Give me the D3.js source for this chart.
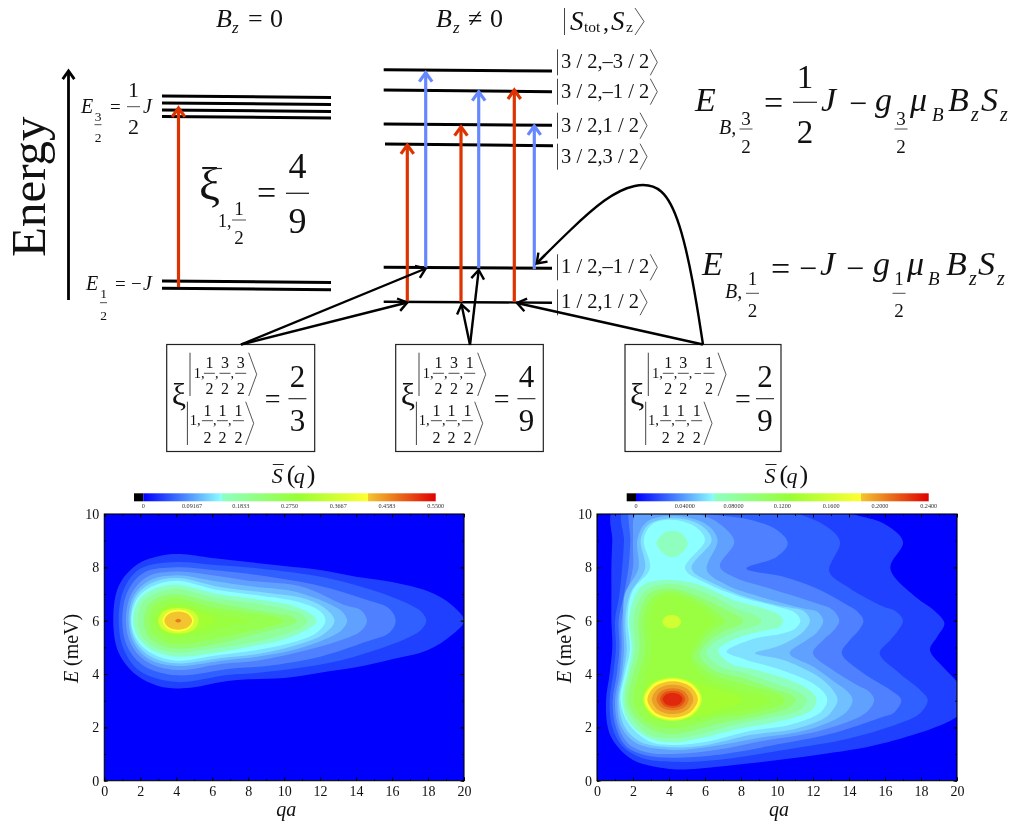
<!DOCTYPE html>
<html>
<head>
<meta charset="utf-8">
<script src="https://cdnjs.cloudflare.com/ajax/libs/d3/7.8.5/d3.min.js"></script>
<style>
  html, body { margin: 0; padding: 0; background: #fff; }
  svg { display: block; filter: blur(0.4px); }
  text { font-family: "Liberation Serif", serif; fill: #111; }
</style>
</head>
<body>
<div id="chart"></div>
<script>
// Energy levels, in units of J: [left end, right end] of each line
const zeroFieldLevels = [[0.593, 0.58], [0.534, 0.521], [0.475, 0.462], [0.42, 0.407], [-0.966, -0.979], [-1.027, -1.04]];
const fieldLevels = [[0.814, 0.803], [0.643, 0.629], [0.357, 0.346], [0.188, 0.174], [-0.851, -0.859], [-1.141, -1.149]];
const ketLabels = ["3 / 2,–3 / 2", "3 / 2,–1 / 2", "3 / 2,1 / 2", "3 / 2,3 / 2", "1 / 2,–1 / 2", "1 / 2,1 / 2"];

// Transitions: energy at the foot and at the tip of each arrow
const transitionKinds = ["red", "red", "blue", "red", "blue", "red", "blue"];
const transitionFrom = [-1.017, -1.143, -0.857, -1.143, -0.857, -1.143, -0.865];
const transitionTo = [0.492, 0.18, 0.789, 0.334, 0.629, 0.643, 0.34];

// Colour bars
const barTicksLeft = [0, 0.09167, 0.1833, 0.275, 0.3667, 0.4583, 0.55];
const barLabelsLeft = ["0", "0.09167", "0.1833", "0.2750", "0.3667", "0.4583", "0.5500"];
const barTicksRight = [0, 0.04, 0.08, 0.12, 0.16, 0.2, 0.24];
const barLabelsRight = ["0", "0.04000", "0.08000", "0.1200", "0.1600", "0.2000", "0.2400"];
const barStopOffsets = [0, 0.268, 0.268, 0.53, 0.77, 0.77, 1];
const barStopColors = ["#0000ff", "#8cffff", "#8dffc4", "#99ff33", "#ffff33", "#f2c430", "#e00000"];
const levelColors = ["#0000ff", "#2040ff", "#3060ff", "#4f80ff", "#60a0ff", "#70c0ff", "#80e0ff", "#8cffff",
  "#8fffc0", "#90ff99", "#93ff70", "#96ff50", "#99ff40", "#a2ff33", "#d0ff33", "#ffff33",
  "#f2c430", "#ec9f28", "#e77a1e", "#e35214", "#e0280c"];

// Left map, contours of S(q,E) as [qa, E]
const left1 = [[0.5,6],[0.8,7.3],[1.8,8.1],[3,8.42],[4.2,8.5],[6,8.35],[8,8.2],[10,8.05],[12,7.9],[14,7.65],[16,7.45],[18,7.1],[19.3,6.6],[20,6],[19.3,5.45],[18,4.9],[16,4.55],[14,4.25],[12,4.05],[10,3.85],[8,3.8],[6.5,3.7],[5,3.5],[4,3.46],[3,3.55],[1.8,3.95],[0.8,4.8]];
const left2 = [[0.8,6],[1.1,7.2],[2,7.95],[4,8.2],[6,8.1],[8.6,7.96],[12.4,7.6],[15.1,7.1],[17,6.6],[17.6,6.35],[17.9,6],[17.6,5.65],[17,5.4],[15.1,4.9],[12.4,4.4],[8.6,4.05],[6.8,3.96],[4,3.7],[2,4.1],[1.1,4.9]];
const left3 = [[1,6],[1.3,7.1],[2.2,7.8],[4,8],[6,7.9],[8.6,7.7],[12,7.3],[14.5,6.8],[15.85,6.45],[16.2,6],[15.85,5.55],[14.5,5.2],[12,4.65],[9,4.3],[7,4.2],[4,3.95],[2.2,4.3],[1.3,5]];
const left4 = [[1.2,6],[1.5,7],[2.4,7.65],[4,7.84],[6,7.7],[8,7.5],[11,7.27],[13.3,6.6],[14.25,6.4],[14.6,6],[14.25,5.6],[13.3,5.3],[11,4.85],[8.5,4.5],[6.5,4.38],[4,4.15],[2.4,4.45],[1.5,5.1]];
const left5 = [[1.35,6],[1.65,6.95],[2.5,7.5],[4,7.7],[6,7.5],[8,7.3],[10.5,7.1],[12.6,6.6],[13.2,6.35],[13.5,6],[13.2,5.65],[12.6,5.4],[10.5,4.9],[8.5,4.65],[6.5,4.5],[4,4.3],[2.5,4.55],[1.65,5.15]];
const left6 = [[1.45,6],[1.75,6.9],[2.6,7.4],[4,7.6],[6.5,7.25],[9,7.05],[11,6.85],[12.2,6.5],[12.8,6],[12.2,5.5],[10.5,5.05],[8.5,4.75],[6.5,4.6],[4,4.4],[2.6,4.65],[1.75,5.2]];
const left7 = [[1.5,6],[1.85,6.85],[2.7,7.3],[4,7.5],[6.3,7.15],[8.5,6.95],[10.8,6.7],[12,6.35],[12.3,6],[11.8,5.55],[10.3,5.15],[8.5,4.9],[6.3,4.7],[4,4.5],[2.7,4.75],[1.85,5.25]];
const left8 = [[1.6,6],[1.95,6.8],[2.8,7.2],[4,7.35],[6.3,7],[8.5,6.8],[10.5,6.55],[11.5,6.25],[11.8,6],[11.5,5.75],[10,5.3],[8.3,5.05],[6.2,4.8],[4,4.65],[2.8,4.85],[1.95,5.3]];
const left9 = [[1.85,6],[2.15,6.7],[3,7.05],[4,7.2],[6.2,6.85],[8.3,6.65],[10.3,6.4],[11,6.25],[11.3,6],[11,5.75],[10.3,5.55],[8.3,5.2],[6,4.95],[4,4.8],[3,4.95],[2.15,5.35]];
const left10 = [[2.2,6],[2.45,6.6],[3.1,6.9],[4,7],[6,6.7],[8,6.45],[9.7,6.25],[10.4,6.17],[10.7,6],[10.4,5.83],[9.7,5.72],[8,5.42],[6,5.1],[4,4.95],[3.1,5.1],[2.45,5.4]];
const left11 = [[2.5,6],[2.7,6.5],[3.3,6.75],[4,6.85],[6,6.5],[8,6.3],[9.5,6.15],[10,6],[9.5,5.85],[8,5.6],[6,5.3],[4,5.12],[3.3,5.25],[2.7,5.5]];
const left12 = [[2.8,6],[3.3,6.5],[4,6.65],[5.8,6.35],[7.3,6.14],[7.9,6.07],[8.25,6],[7.9,5.93],[7.3,5.85],[5.8,5.55],[4,5.35],[3.3,5.5]];
const left13 = [[2.95,6],[3.2,6.4],[4.11,6.55],[5.2,6.35],[6.2,6],[5.2,5.65],[4.11,5.45],[3.2,5.6]];
const left14 = [[3,6],[3.3,6.35],[4.11,6.48],[4.95,6.35],[5.25,6],[4.95,5.65],[4.11,5.52],[3.3,5.65]];
const left15 = [[3.24,6],[3.5,6.29],[4.11,6.41],[4.72,6.29],[4.98,6],[4.72,5.71],[4.11,5.59],[3.5,5.71]];
const left16 = [[3.34,6],[3.56,6.24],[4.11,6.34],[4.66,6.24],[4.88,6],[4.66,5.76],[4.11,5.66],[3.56,5.76]];
const left18 = [[3.94,6],[4.11,6.07],[4.28,6],[4.11,5.93]];
const leftContours = [left1, left2, left3, left4, left5, left6, left7, left8, left9, left10, left11, left12, left13, left14, left15, left16, left18];
const leftContourLevels = [1, 2, 3, 4, 5, 6, 7, 8, 9, 10, 11, 12, 13, 14, 15, 16, 18];

// Right map, contours as [qa, E]
const right1 = [[0.95,10.2],[0.85,9],[0.8,8],[0.8,7],[0.8,6],[0.85,5],[0.7,4],[0.5,3],[0.6,2],[0.9,1.5],[2,0.78],[4.2,0.43],[5.7,0.46],[8.5,0.65],[12.2,0.96],[15.9,1.4],[20,2.4],[20.7,3],[20,3.71],[19.2,4.28],[18.5,4.9],[18.9,5.4],[19.3,5.9],[18.7,6.4],[17.8,6.84],[16.3,7.96],[17,8.96],[15.9,9.65],[14.4,9.96],[13.7,10.15]];
const right2 = [[1.5,10.2],[1.5,9],[1.4,8],[1.25,7],[1,6],[1.05,5],[0.9,4],[0.7,3],[0.85,2],[1.4,1.3],[2.5,0.85],[4.2,0.71],[6.65,0.78],[10.35,1.15],[14.05,1.59],[16.8,2.15],[17.95,2.53],[18.37,3.03],[17.95,3.4],[16.8,4.03],[15.7,4.78],[16.3,5.28],[16.7,5.6],[17,6],[16.6,6.35],[15.9,6.53],[14.05,7.21],[12.9,7.84],[13.5,8.96],[12.75,9.53],[11.1,10.03],[10.35,10.15]];
const right3 = [[1.85,10.2],[1.85,9],[1.75,8],[1.5,7],[1.2,6],[1.25,5],[1.1,4],[0.87,3],[1.05,2],[1.6,1.3],[2.7,0.95],[4.2,0.86],[6.6,0.96],[10.35,1.4],[13.1,1.78],[15.9,2.4],[16.5,2.55],[16.9,3.03],[16.3,3.4],[14.8,4.03],[13.6,4.78],[14.05,5.28],[14.5,5.6],[14.8,6],[14.45,6.35],[14.05,6.53],[12.2,7.21],[10.35,7.65],[8.3,7.96],[10,8.4],[10.6,8.9],[10,9.4],[8.5,9.78],[6.65,9.96],[4.8,10.1],[2.9,10.1]];
const right4 = [[2.2,10.05],[2,9],[2,8],[1.65,7],[1.37,6],[1.37,5],[1.25,4],[1,3],[1.2,2],[1.8,1.35],[2.9,1.05],[4.2,1],[6.6,1.15],[9.43,1.52],[12.2,1.84],[14.6,2.4],[15.1,2.65],[15.4,3.03],[15.1,3.35],[14.6,3.53],[13.1,4.15],[12,4.78],[12.57,5.28],[13.1,5.6],[13.46,6],[13.1,6.4],[12.2,6.65],[9.6,7.21],[7.76,7.59],[6.83,8.03],[7.63,8.96],[7,9.53],[6.1,9.9],[4.2,10.05]];
const right5 = [[2.24,9.03],[2.3,7.96],[1.55,7],[1.46,6],[1.5,4.9],[1.37,4],[1.13,3],[1.37,2],[2.2,1.4],[4.24,1.15],[6.3,1.28],[8.87,1.59],[11.65,1.9],[13.5,2.4],[13.95,2.65],[14.2,3.03],[13.9,3.35],[13.3,3.65],[12,4.28],[10.7,4.78],[11.65,5.28],[12.2,5.55],[12.57,6],[12.2,6.35],[11.46,6.46],[9.05,6.9],[7.2,7.34],[6.1,7.9],[6.7,9.03],[6.1,9.6],[4.24,9.93],[2.76,9.7]];
const right6 = [[2.43,9.03],[2.67,7.96],[1.83,7],[1.57,6],[1.65,4.9],[1.46,4],[1.22,3],[1.56,2],[2.4,1.46],[4.24,1.25],[6.09,1.34],[8.5,1.71],[11.1,1.96],[12.76,2.4],[13.1,2.65],[13.37,3.03],[13.1,3.4],[12.6,3.75],[12,4.03],[10.35,4.53],[8.78,4.78],[10,5.03],[11.1,5.4],[11.55,5.65],[11.83,6],[11.5,6.35],[10.35,6.53],[8.5,6.84],[6.65,7.34],[5.26,7.96],[6.37,9.03],[5.72,9.6],[4.24,9.84],[2.85,9.6]];
const right7 = [[2.6,9.03],[2.94,7.96],[2,7.15],[1.7,6.15],[1.83,4.9],[1.56,4.03],[1.3,3],[1.74,2.15],[2.94,1.46],[4.24,1.34],[6.09,1.46],[8.3,1.84],[10.7,2.09],[12.2,2.46],[12.6,2.7],[12.8,3.03],[12.55,3.35],[11.83,3.71],[10,4.21],[8.3,4.53],[7.2,4.84],[8.5,5.28],[10.35,5.53],[11,5.7],[11.3,6],[11,6.3],[10,6.53],[7.94,6.9],[6.09,7.4],[4.89,7.96],[6,9.03],[5.44,9.53],[4.15,9.78],[3.04,9.6]];
const right8 = [[1.78,6.03],[1.93,4.9],[1.43,3],[1.83,2.15],[2.94,1.59],[4.24,1.43],[5.72,1.59],[7.94,1.96],[10,2.21],[11.65,2.53],[12,2.7],[12.2,3.03],[11.9,3.35],[10.7,3.78],[8.87,4.15],[7.39,4.4],[6.74,4.9],[7.76,5.34],[9.43,5.65],[10.1,5.75],[10.35,6],[10.05,6.25],[9.24,6.46],[7.57,6.78],[5.72,7.34],[4.15,7.53],[2.57,7.34],[2.02,6.78]];
const right8Top = [[3.3,8.9],[3.69,9.27],[4.17,9.36],[4.7,9.27],[5.04,8.9],[4.7,8.53],[4.17,8.38],[3.69,8.53]];
const right9 = [[2.02,6],[2.1,4.9],[1.56,3],[2.02,2.28],[2.94,1.71],[4.24,1.59],[5.54,1.71],[7.57,2.09],[9.43,2.34],[11.1,2.59],[11.45,2.75],[11.65,3.03],[11.3,3.3],[10.35,3.53],[8.3,4.03],[6.83,4.28],[6.09,4.78],[6.46,5.15],[7.76,5.59],[8.8,5.8],[9.15,6],[8.8,6.2],[7.76,6.46],[6.09,7.03],[4.15,7.38],[2.76,7.15],[2.24,6.65]];
const right10 = [[2.3,6],[2.35,4.9],[1.74,3],[2.2,2.34],[3.13,1.88],[4.24,1.75],[5.35,1.88],[7.2,2.21],[8.87,2.4],[10.35,2.65],[10.8,2.8],[11.04,3.03],[10.7,3.25],[10,3.4],[8.13,3.84],[6.46,4.15],[5.72,4.71],[6,5.09],[7,5.59],[7.85,5.82],[8.13,6],[7.85,6.18],[7.2,6.4],[6.09,6.78],[4.15,7.21],[2.94,7.03],[2.48,6.53]];
const right11 = [[2.57,6],[2.67,4.9],[2.02,3],[2.48,2.4],[3.3,2.05],[4.24,1.96],[5.17,2.05],[6.65,2.34],[8.13,2.46],[9.61,2.71],[10.2,2.85],[10.44,3.03],[9.9,3.3],[8.31,3.59],[6.28,4.03],[5.35,4.65],[5.54,4.9],[6.18,5.53],[6.85,5.8],[7.11,6],[6.8,6.2],[5.9,6.65],[4.15,7.09],[3.13,6.9],[2.76,6.53]];
const right12 = [[2.94,6],[3.04,4.9],[2.48,3],[2.85,2.53],[3.5,2.28],[4.24,2.21],[5.54,2.34],[7.02,2.53],[8.5,2.71],[9.3,2.85],[9.61,3.03],[9.2,3.2],[7.76,3.4],[5.91,3.9],[5.17,4.65],[5.72,5.4],[6.3,5.8],[6.55,6],[6.3,6.2],[5.72,6.53],[4.15,6.96],[3.31,6.78]];
const right13 = [[2.6,3],[2.94,2.4],[4.2,2.3],[5.65,2.4],[7,2.71],[7.8,2.87],[8.13,3.03],[7.8,3.18],[7,3.34],[5.65,3.65],[4.2,3.9],[2.94,3.65]];
const right13Mid = [[3.63,5.96],[3.78,6.14],[4.15,6.21],[4.52,6.14],[4.67,5.96],[4.52,5.78],[4.15,5.71],[3.78,5.78]];
const right14 = [[2.57,3.05],[3.05,3.62],[4.2,3.86],[5.35,3.62],[5.83,3.05],[5.35,2.48],[4.2,2.24],[3.05,2.48]];
const right15 = [[2.65,3.05],[3.11,3.59],[4.2,3.81],[5.29,3.59],[5.75,3.05],[5.29,2.51],[4.2,2.29],[3.11,2.51]];
const right16 = [[2.8,3.05],[3.21,3.53],[4.2,3.73],[5.19,3.53],[5.6,3.05],[5.19,2.57],[4.2,2.37],[3.21,2.57]];
const right17 = [[3.05,3.05],[3.38,3.44],[4.2,3.6],[5.02,3.44],[5.35,3.05],[5.02,2.66],[4.2,2.5],[3.38,2.66]];
const right18 = [[3.3,3.05],[3.56,3.35],[4.2,3.47],[4.84,3.35],[5.1,3.05],[4.84,2.75],[4.2,2.63],[3.56,2.75]];
const right19 = [[3.5,3.05],[3.7,3.28],[4.2,3.37],[4.7,3.28],[4.9,3.05],[4.7,2.82],[4.2,2.73],[3.7,2.82]];
const right20 = [[3.65,3.05],[3.81,3.22],[4.2,3.29],[4.59,3.22],[4.75,3.05],[4.59,2.88],[4.2,2.81],[3.81,2.88]];
const rightContours = [right1, right2, right3, right4, right5, right6, right7, right8, right8Top, right9, right10, right11, right12, right13, right13Mid, right14, right15, right16, right17, right18, right19, right20];
const rightContourLevels = [1, 2, 3, 4, 5, 6, 7, 8, 8, 9, 10, 11, 12, 13, 14, 14, 15, 16, 17, 18, 19, 20];

const qTicks = d3.range(0, 21, 2);
const qMinorTicks = d3.range(0, 21, 1);
const eTicks = d3.range(0, 11, 2);
const eMinorTicks = d3.range(0, 11, 1);

const svg = d3.select("#chart").append("svg").attr("width", 1015).attr("height", 824);

// Small text helper, most of the figure is typeset maths
function label(x, y, str, size, italic, anchor) {
  return svg.append("text")
    .attr("x", x).attr("y", y)
    .attr("font-size", size)
    .attr("font-style", italic ? "italic" : "normal")
    .attr("text-anchor", anchor || "start")
    .text(str);
}

function frac(cx, topY, barY, botY, a, b, size, half) {
  label(cx, topY, a, size, false, "middle");
  label(cx, botY, b, size, false, "middle");
  svg.append("line").attr("x1", cx - half).attr("x2", cx + half).attr("y1", barY).attr("y2", barY)
    .attr("stroke", "#222").attr("stroke-width", Math.max(0.8, size / 28));
}

function ketBracket(x, top, bottom, w) {
  svg.append("path")
    .attr("d", `M${x},${top}L${x + w},${(top + bottom) / 2}L${x},${bottom}`)
    .attr("fill", "none").attr("stroke", "#444").attr("stroke-width", 0.9);
}

function ketBar(x, top, bottom) {
  svg.append("line").attr("x1", x).attr("x2", x).attr("y1", top).attr("y2", bottom)
    .attr("stroke", "#444").attr("stroke-width", 1);
}

// --- energy level diagram ---
const yE = d3.scaleLinear().domain([-1, 0.5]).range([285, 107]);
const lineWidth = 3;

zeroFieldLevels.forEach(d => {
  svg.append("line").attr("x1", 162).attr("x2", 331).attr("y1", yE(d[0])).attr("y2", yE(d[1]))
    .attr("stroke", "#000").attr("stroke-width", lineWidth);
});
fieldLevels.forEach((d, i) => {
  svg.append("line").attr("x1", i === 3 ? 385 : 383.7).attr("x2", i === 3 ? 553 : 552).attr("y1", yE(d[0])).attr("y2", yE(d[1]))
    .attr("stroke", "#000").attr("stroke-width", i === 5 ? 2.4 : lineWidth);
});

function arrow(x1, y1, x2, y2, color, width, head) {
  const a = Math.atan2(y2 - y1, x2 - x1);
  svg.append("line").attr("x1", x1).attr("y1", y1).attr("x2", x2).attr("y2", y2)
    .attr("stroke", color).attr("stroke-width", width);
  const p = d3.path();
  p.moveTo(x2 - head * Math.cos(a - 0.62), y2 - head * Math.sin(a - 0.62));
  p.lineTo(x2, y2);
  p.lineTo(x2 - head * Math.cos(a + 0.62), y2 - head * Math.sin(a + 0.62));
  svg.append("path").attr("d", p.toString()).attr("fill", "none")
    .attr("stroke", color).attr("stroke-width", width).attr("stroke-linejoin", "miter");
}

const kindColors = { red: "#dd3300", blue: "#6688ff" };
const transitionX = [178.5, 407.3, 425.7, 461, 478.7, 514.3, 534.3];
transitionKinds.forEach((k, i) => {
  arrow(transitionX[i], yE(transitionFrom[i]), transitionX[i], yE(transitionTo[i]), kindColors[k], 3.2, 11);
});

// energy axis
arrow(68.5, 300, 68.5, 71, "#000", 2.8, 10);
svg.append("text").attr("transform", "translate(45,257) rotate(-90)")
  .attr("font-size", 49).text("Energy");

// column headers
label(216, 26.7, "B", 26, true);
label(232, 33, "z", 17, true);
label(248, 26.7, "=", 26);
label(270, 26.7, "0", 26);
label(436, 27.3, "B", 26, true);
label(453, 33, "z", 17, true);
label(468, 27.3, "≠", 26);
label(490, 27.3, "0", 26);

ketBar(564.5, 8, 35);
label(570, 30, "S", 27, true);
label(584, 32, "tot", 15.5);
label(603, 30, ",", 24);
label(611, 30, "S", 27, true);
label(626, 32, "z", 15.5);
ketBracket(635, 8, 35, 9);

// level kets
const ketBase = [68.3, 97.7, 131.7, 162.7, 273.3, 308.3];
ketLabels.forEach((k, i) => {
  const y = ketBase[i];
  ketBar(557.5, y - 19, y + 7);
  const t = label(561, y, k, 20.5);
  const end = 561 + t.node().getComputedTextLength();
  ketBracket(end + 1, y - 19, y + 7, 7);
});

// E labels of the zero field column
label(81, 112.7, "E", 20, true);
label(110, 112.7, "=", 19);
frac(133.5, 96.7, 106.7, 134.3, "1", "2", 22, 6.5);
label(143, 112.7, "J", 20, true);
frac(98, 120.7, 124.7, 141.7, "3", "2", 13.5, 3.5);

label(86, 290, "E", 20, true);
label(115, 290, "=", 19);
label(131, 290, "−", 19);
label(143, 290, "J", 20, true);
frac(103.5, 298, 302.7, 320, "1", "2", 13.5, 3.5);

// averaged coupling
label(199, 200, "ξ", 47);
svg.append("line").attr("x1", 203).attr("x2", 222).attr("y1", 168.5).attr("y2", 168.5).attr("stroke", "#222").attr("stroke-width", 1.2);
label(218, 226.7, "1,", 18);
frac(239, 215, 220, 244, "1", "2", 19, 7);
label(257, 204, "=", 34);
frac(297.5, 178, 193.3, 233, "4", "9", 36, 11.5);

// Zeeman formulas
label(695, 110.7, "E", 34, true);
label(719, 134, "B,", 20, true);
frac(746, 125, 129, 152.7, "3", "2", 19, 6.5);
label(764, 114, "=", 34);
frac(805, 88.3, 102.3, 142.7, "1", "2", 33, 12);
label(821, 110.7, "J", 34, true);
label(849, 114, "−", 32);
label(875, 110.7, "g", 34, true);
frac(901, 125, 129, 152.7, "3", "2", 19, 6.5);
label(910, 110.7, "μ", 34, true);
label(932, 120.5, "B", 19, true);
label(948, 110.7, "B", 34, true);
label(971, 120.5, "z", 20, true);
label(981, 110.7, "S", 34, true);
label(1000, 120.5, "z", 20, true);

label(702, 275, "E", 34, true);
label(725, 298.3, "B,", 20, true);
frac(752.5, 285, 293.3, 316.7, "1", "2", 19, 6.5);
label(771, 280, "=", 34);
label(799, 279, "−", 32);
label(820, 275, "J", 34, true);
label(846, 279, "−", 32);
label(873, 275, "g", 34, true);
frac(899, 285, 293.3, 316.7, "1", "2", 19, 6.5);
label(907, 275, "μ", 34, true);
label(928, 285, "B", 19, true);
label(946, 275, "B", 34, true);
label(969, 285, "z", 20, true);
label(978, 275, "S", 34, true);
label(997, 285, "z", 20, true);

// coupling boxes
const boxLeft = [166.7, 395.7, 625];
const boxUpper = [["1","3","3"], ["1","3","1"], ["1","3","−1"]];
const boxValue = [["2","3"], ["4","9"], ["2","9"]];
const boxWidth = [148, 147.6, 156];

boxLeft.forEach((x, i) => {
  svg.append("rect").attr("x", x).attr("y", 344.5).attr("width", boxWidth[i]).attr("height", 107)
    .attr("fill", "#fff").attr("stroke", "#222").attr("stroke-width", 1.2);
  label(x + 5, 405, "ξ", 32);

  ketBar(x + 23.3, 352.7, 396);
  label(x + 27, 378.3, "1,", 14.5);
  const ux = i === 2 ? [43.3, 58.3, 84] : [42.7, 58.3, 74];
  boxUpper[i].forEach((n, j) => {
    const neg = n[0] === "−";
    if (neg) label(x + 69, 378.3, "−", 14);
    frac(x + ux[j], 368.3, 373.3, 394, neg ? n.slice(1) : n, "2", 16, 5.5);
    if (j < 2) label(x + ux[j] + 5.5, 378.3, ",", 14);
  });
  ketBracket(x + (i === 2 ? 93 : 82), 352.7, 396, 8);

  ketBar(x + 20.7, 401.7, 445);
  label(x + 23, 425, "1,", 14.5);
  const lx = [40.7, 55.7, 71.7];
  lx.forEach((c, j) => {
    frac(x + c, 416, 420.7, 443, "1", "2", 16, 5.5);
    if (j < 2) label(x + c + 5.5, 425, ",", 14);
  });
  ketBracket(x + 79, 401.7, 445, 8);

  const eqX = i === 2 ? 110 : 98;
  const vx = i === 2 ? 140 : 130.7;
  label(x + eqX, 408, "=", 28);
  frac(x + vx, 386.7, 398.7, 431, boxValue[i][0], boxValue[i][1], 31, 9);
});

// pointers from the boxes to the levels
arrow(241, 344.5, 425.7, 268.5, "#000", 2.4, 11);
arrow(241, 344.5, 407.3, 302.5, "#000", 2.4, 11);
arrow(470, 345, 461.5, 304.5, "#000", 2.4, 11);
arrow(470, 345, 478.7, 270, "#000", 2.4, 11);
arrow(703, 344.5, 517, 303, "#000", 2.4, 11);

const bend = d3.line().curve(d3.curveBasis);
svg.append("path")
  .attr("d", bend([[703, 344.5], [693, 280], [680, 222], [663, 186], [635, 183], [605, 198], [570, 230], [538, 262]]))
  .attr("fill", "none").attr("stroke", "#000").attr("stroke-width", 2.4);
arrow(545, 255, 536.7, 263.5, "#000", 2.4, 11);

// --- the two maps ---
const defs = svg.append("defs");
const grad = defs.append("linearGradient").attr("id", "barGradient");
barStopOffsets.forEach((o, i) => {
  grad.append("stop").attr("offset", o).attr("stop-color", barStopColors[i]);
});

function drawMap(cfg) {
  const x = d3.scaleLinear().domain([0, 20]).range(cfg.xRange);
  const y = d3.scaleLinear().domain([0, 10]).range([780.7, 514]);
  const w = cfg.xRange[1] - cfg.xRange[0];
  const h = 780.7 - 514;

  defs.append("clipPath").attr("id", cfg.id).append("rect")
    .attr("x", cfg.xRange[0]).attr("y", 514).attr("width", w).attr("height", h);

  const plot = svg.append("g").attr("clip-path", `url(#${cfg.id})`);
  plot.append("rect").attr("x", cfg.xRange[0]).attr("y", 514).attr("width", w).attr("height", h)
    .attr("fill", levelColors[0]);

  const outline = d3.line()
    .x(d => x(d[0]))
    .y(d => y(d[1]))
    .curve(d3.curveCatmullRomClosed.alpha(0.5));

  plot.selectAll("path.band")
    .data(cfg.contours)
    .join("path")
    .attr("class", "band")
    .attr("d", outline)
    .attr("fill", (d, i) => levelColors[cfg.levels[i]]);

  // ticks on all four sides, labels only bottom and left
  const tickStyle = g => {
    g.selectAll(".domain").remove();
    g.selectAll("line").attr("stroke", "#000").attr("stroke-width", 0.9);
  };
  const textStyle = g => {
    g.selectAll("text").attr("font-size", 14).attr("fill", "#333")
      .style("font-family", '"Liberation Serif", serif');
  };

  svg.append("g").attr("transform", `translate(0,${y(0)})`)
    .call(d3.axisBottom(x).tickValues(qTicks).tickSize(-3.5).tickPadding(5).tickFormat(d3.format("d")))
    .call(tickStyle).call(textStyle);
  svg.append("g").attr("transform", `translate(0,${y(0)})`)
    .call(d3.axisBottom(x).tickValues(qMinorTicks).tickSize(-2).tickFormat("")).call(tickStyle);
  svg.append("g").attr("transform", `translate(0,${y(10)})`)
    .call(d3.axisTop(x).tickValues(qTicks).tickSize(-3.5).tickFormat("")).call(tickStyle);
  svg.append("g").attr("transform", `translate(0,${y(10)})`)
    .call(d3.axisTop(x).tickValues(qMinorTicks).tickSize(-2).tickFormat("")).call(tickStyle);

  svg.append("g").attr("transform", `translate(${x(0)},0)`)
    .call(d3.axisLeft(y).tickValues(eTicks).tickSize(-3.5).tickPadding(5).tickFormat(d3.format("d")))
    .call(tickStyle).call(textStyle);
  svg.append("g").attr("transform", `translate(${x(0)},0)`)
    .call(d3.axisLeft(y).tickValues(eMinorTicks).tickSize(-2).tickFormat("")).call(tickStyle);
  svg.append("g").attr("transform", `translate(${x(20)},0)`)
    .call(d3.axisRight(y).tickValues(eTicks).tickSize(-3.5).tickFormat("")).call(tickStyle);
  svg.append("g").attr("transform", `translate(${x(20)},0)`)
    .call(d3.axisRight(y).tickValues(eMinorTicks).tickSize(-2).tickFormat("")).call(tickStyle);

  svg.append("rect").attr("x", cfg.xRange[0]).attr("y", 514).attr("width", w).attr("height", h)
    .attr("fill", "none").attr("stroke", "#000").attr("stroke-width", 1.1);

  // axis titles
  label(x(10) - 8, 816, "qa", 20, true);
  svg.append("text").attr("transform", `translate(${cfg.xRange[0] - 26},683) rotate(-90)`)
    .attr("font-size", 20).attr("font-style", "italic").text("E");
  svg.append("text").attr("transform", `translate(${cfg.xRange[0] - 26},666) rotate(-90)`)
    .attr("font-size", 20).text("(meV)");

  // colour bar
  const barX = d3.scaleLinear().domain([0, cfg.barTicks[cfg.barTicks.length - 1]]).range(cfg.barRange);
  svg.append("rect").attr("x", cfg.barRange[0] - 9.3).attr("y", 493.3).attr("width", 9.3).attr("height", 8).attr("fill", "#000");
  svg.append("rect").attr("x", cfg.barRange[0]).attr("y", 493.3).attr("width", cfg.barRange[1] - cfg.barRange[0]).attr("height", 8)
    .attr("fill", "url(#barGradient)");
  cfg.barTicks.forEach((v, i) => {
    label(barX(v), 508, cfg.barLabels[i], 6.2, false, "middle").style("fill", "#333");
  });

  // map title
  const tx = cfg.xRange[0] + 167.5;
  label(tx, 482.7, "S", 22, true);
  svg.append("line").attr("x1", tx + 1).attr("x2", tx + 12).attr("y1", 464.5).attr("y2", 464.5).attr("stroke", "#222");
  label(tx + 15, 483, "(", 26);
  label(tx + 22, 482.7, "q", 22, true);
  label(tx + 35, 483, ")", 26);
}

drawMap({ id: "clipLeft", xRange: [104.3, 464], contours: leftContours, levels: leftContourLevels,
  barRange: [143.3, 435.7], barTicks: barTicksLeft, barLabels: barLabelsLeft });
drawMap({ id: "clipRight", xRange: [597, 957], contours: rightContours, levels: rightContourLevels,
  barRange: [636, 928.7], barTicks: barTicksRight, barLabels: barLabelsRight });
</script>
</body>
</html>
